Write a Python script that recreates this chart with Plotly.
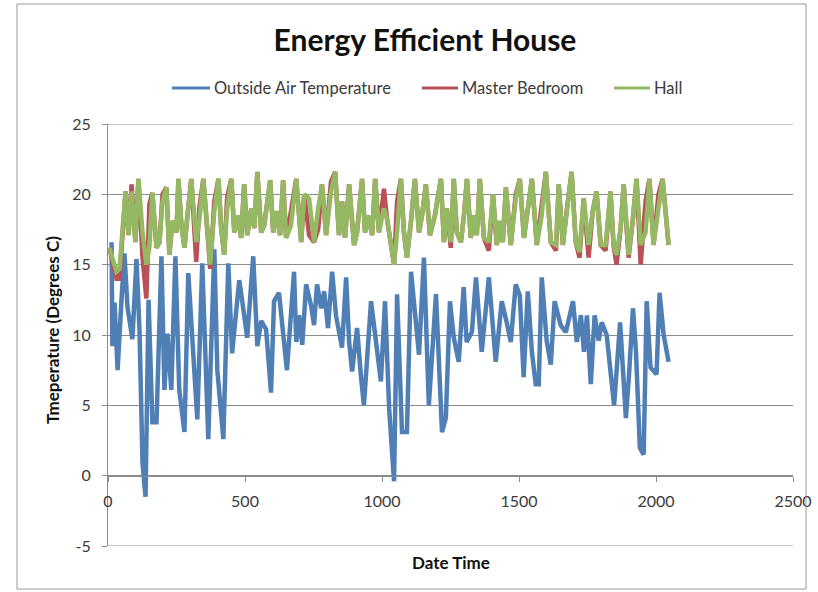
import plotly.graph_objects as go

# ---------------- data ----------------
outside_x = [13, 16, 24, 35, 49, 60, 71, 89, 104, 115, 126, 137, 148, 162, 177, 195, 206, 217, 231, 246,
             260, 279, 293, 315, 326, 344, 359, 366, 388, 399, 421, 439, 453, 479, 490, 508, 530, 545, 559, 577,
             595, 606, 624, 643, 653, 679, 687, 697, 709, 723, 741, 752, 763, 778, 789, 803, 818, 832, 854, 869,
             880, 891, 909, 923, 934, 960, 978, 996, 1011, 1026, 1044, 1055, 1073, 1091, 1106, 1117, 1135, 1153, 1171, 1197,
             1219, 1233, 1248, 1262, 1280, 1298, 1309, 1328, 1343, 1364, 1390, 1415, 1437, 1455, 1470, 1488, 1503, 1517, 1532, 1547,
             1561, 1572, 1583, 1601, 1616, 1630, 1652, 1671, 1697, 1711, 1726, 1737, 1748, 1762, 1776, 1791, 1802, 1820, 1834, 1847,
             1869, 1880, 1890, 1901, 1916, 1927, 1941, 1955, 1966, 1980, 2002, 2013, 2028, 2046]
outside_y = [16.6, 9.2, 12.3, 7.5, 12.4, 15.8, 12.0, 9.7, 15.4, 10.3, 0.9, -1.5, 12.5, 3.8, 3.8, 15.6, 6.1, 10.1, 6.1, 15.6,
             6.1, 3.1, 14.4, 7.0, 4.0, 15.1, 5.6, 2.6, 16.1, 7.5, 2.6, 15.1, 8.7, 13.9, 12.4, 9.8, 15.6, 9.2, 11.0, 10.4,
             5.9, 12.4, 13.0, 9.6, 7.5, 14.5, 9.5, 11.4, 9.3, 13.6, 12.1, 10.7, 13.6, 11.9, 13.1, 10.5, 14.5, 11.4, 9.1, 14.1,
             9.5, 7.4, 10.5, 7.1, 5.0, 12.4, 9.3, 6.7, 12.4, 4.8, -0.4, 12.9, 3.1, 3.1, 14.5, 12.3, 8.6, 15.5, 5.0, 12.9,
             3.1, 4.1, 12.4, 9.8, 8.1, 13.4, 9.5, 10.2, 14.1, 8.8, 14.1, 8.1, 12.4, 10.9, 9.5, 13.6, 12.8, 7.0, 13.1, 8.8,
             6.5, 6.5, 14.1, 9.6, 7.9, 12.4, 10.7, 10.2, 12.4, 9.5, 11.4, 8.8, 11.4, 6.5, 11.4, 9.6, 10.9, 10.0, 7.7, 5.0,
             10.9, 6.6, 4.1, 7.0, 11.9, 8.8, 2.0, 1.5, 12.4, 7.7, 7.2, 13.0, 10.0, 8.1]

indoor_x = [5, 31, 42, 64, 75, 86, 100, 111, 126, 140,
            151, 162, 177, 188, 199, 213, 224, 235, 250, 257,
            268, 279, 290, 304, 322, 333, 348, 362, 373, 388,
            403, 413, 424, 435, 450, 461, 472, 486, 497, 508,
            523, 534, 545, 559, 570, 592, 603, 614, 628, 639,
            650, 668, 687, 705, 716, 734, 752, 767, 781, 796,
            814, 829, 843, 854, 865, 880, 898, 909, 927, 938,
            949, 964, 975, 989, 1007, 1018, 1033, 1044, 1055, 1069,
            1080, 1091, 1106, 1120, 1135, 1146, 1160, 1175, 1193, 1215,
            1226, 1237, 1251, 1262, 1273, 1288, 1299, 1310, 1324, 1335,
            1346, 1357, 1372, 1390, 1405, 1419, 1430, 1441, 1452, 1470,
            1488, 1503, 1518, 1529, 1547, 1565, 1583, 1598, 1616, 1635,
            1645, 1660, 1675, 1692, 1707, 1721, 1736, 1754, 1769, 1783,
            1798, 1816, 1834, 1845, 1856, 1871, 1882, 1900, 1915, 1929,
            1944, 1962, 1976, 1991, 2009, 2024, 2046]

hall_y = [16.2, 14.5, 14.7, 20.2, 17.1, 20.2, 16.6, 21.1, 17.3, 15.0,
          16.2, 20.1, 16.2, 16.6, 19.5, 20.5, 15.7, 18.1, 17.3, 21.1,
          17.8, 16.2, 18.5, 21.1, 16.6, 18.1, 21.1, 17.3, 15.0, 18.8,
          21.1, 17.6, 15.7, 19.0, 21.1, 17.3, 18.5, 16.9, 20.7, 17.1,
          19.0, 17.6, 21.6, 17.3, 17.8, 21.0, 17.3, 18.8, 17.1, 21.0,
          16.9, 17.8, 21.1, 16.6, 20.0, 19.7, 16.6, 19.0, 20.7, 17.1,
          20.2, 21.6, 17.1, 19.5, 16.9, 20.7, 16.4, 17.3, 21.1, 17.3,
          18.5, 17.1, 21.1, 17.3, 19.0, 18.3, 16.6, 15.0, 17.3, 21.1,
          17.3, 15.5, 18.1, 21.1, 17.3, 18.5, 20.7, 17.1, 18.5, 21.1,
          16.6, 19.0, 16.6, 21.1, 17.3, 16.6, 18.5, 21.1, 16.9, 18.5,
          17.1, 21.1, 16.9, 16.6, 20.0, 16.4, 18.1, 16.6, 20.5, 16.4,
          19.7, 21.1, 16.9, 18.5, 21.1, 16.4, 18.5, 21.6, 16.6, 16.4,
          20.7, 16.4, 19.0, 21.6, 16.6, 15.9, 19.7, 16.4, 18.8, 20.2,
          16.4, 16.4, 20.2, 16.4, 15.7, 17.6, 20.7, 15.7, 18.1, 21.1,
          16.4, 17.3, 21.1, 16.4, 19.0, 21.1, 16.4]

bedroom_y = [16.2, 14.0, 14.0, 20.2, 17.1, 20.7, 16.6, 21.1, 15.5, 12.6,
             19.3, 20.1, 16.2, 16.6, 20.0, 20.5, 15.7, 18.1, 17.3, 21.1,
             17.8, 16.2, 18.5, 21.1, 15.2, 19.0, 21.1, 17.3, 14.7, 19.5,
             21.1, 17.6, 15.7, 19.8, 21.1, 17.3, 18.5, 16.9, 20.7, 17.1,
             19.0, 17.6, 21.6, 17.3, 17.8, 21.0, 17.3, 18.8, 17.1, 21.0,
             16.9, 18.8, 21.1, 16.6, 20.0, 17.1, 16.6, 17.5, 20.7, 17.1,
             20.9, 21.6, 17.1, 19.5, 16.9, 20.7, 16.4, 17.3, 21.1, 17.3,
             18.5, 17.1, 21.1, 17.3, 20.4, 18.3, 16.6, 15.0, 19.5, 21.1,
             17.3, 15.5, 18.1, 21.1, 17.3, 18.5, 20.7, 17.1, 18.5, 21.1,
             16.6, 19.0, 16.2, 21.1, 17.3, 16.6, 18.5, 21.1, 16.9, 18.5,
             17.1, 21.1, 16.9, 16.0, 20.0, 16.4, 18.1, 16.6, 20.5, 16.4,
             20.0, 21.1, 16.9, 18.5, 21.1, 16.4, 19.3, 21.6, 16.6, 16.0,
             20.7, 16.4, 19.0, 21.6, 16.6, 15.5, 19.7, 15.5, 18.8, 20.2,
             16.4, 16.0, 20.2, 16.4, 15.0, 17.6, 20.7, 15.5, 18.1, 21.1,
             15.0, 19.5, 21.1, 16.4, 20.0, 21.1, 16.4]

series_names = ["Outside Air Temperature", "Master Bedroom", "Hall"]
series_colors = ["#4f7fb4", "#b9505a", "#95b862"]

x_ticks = [0, 500, 1000, 1500, 2000, 2500]
y_ticks = [-5, 0, 5, 10, 15, 20, 25]

# ---------------- figure ----------------
FONT = "Lato"
GRID = "#8c8c8c"
TXT = "#3a3a3a"
W, H = 818, 592
L, R, T, B = 108, 25, 124, 46
PW, PH = W - L - R, H - T - B


def px_x(p):  # pixel -> paper x
    return (p - L) / PW


def px_y(p):  # pixel -> paper y
    return (H - B - p) / PH


fig = go.Figure()
for name, xs, ys, col in [(series_names[0], outside_x, outside_y, series_colors[0]),
                          (series_names[1], indoor_x, bedroom_y, series_colors[1]),
                          (series_names[2], indoor_x, hall_y, series_colors[2])]:
    fig.add_trace(go.Scatter(x=xs, y=ys, mode="lines", name=name, showlegend=False,
                             line=dict(color=col, width=4.5)))

fig.update_layout(
    width=W, height=H,
    margin=dict(l=L, r=R, t=T, b=B),
    paper_bgcolor="white", plot_bgcolor="white",
    font=dict(family=FONT, color=TXT, size=15),
    title=dict(text="<b>Energy Efficient House</b>", x=425 / W, xanchor="center",
               y=1 - 40 / H, yanchor="middle",
               font=dict(family=FONT, size=30, color="#111111")),
    showlegend=False,
)

fig.update_xaxes(range=[0, 2500], tickvals=x_ticks, ticktext=[str(v) for v in x_ticks],
                 anchor="free", position=5 / 30, showgrid=False, zeroline=False,
                 showline=True, linecolor=GRID, linewidth=1, automargin=False,
                 ticks="outside", ticklen=5, tickcolor=GRID,
                 tickfont=dict(family=FONT, size=16, color=TXT), ticklabelstandoff=6)
fig.update_yaxes(range=[-5, 25], tickvals=y_ticks, ticktext=[str(v) for v in y_ticks],
                 showgrid=True, gridcolor=GRID, gridwidth=1, zeroline=False,
                 showline=True, linecolor=GRID, linewidth=1, automargin=False,
                 ticks="outside", ticklen=5, tickcolor=GRID,
                 tickfont=dict(family=FONT, size=16, color=TXT), ticklabelstandoff=8)

# gridlines at the range edges (plotly omits them)
for yv in (y_ticks[0], y_ticks[-1]):
    fig.add_shape(type="line", xref="paper", yref="y", x0=0, x1=1, y0=yv, y1=yv,
                  line=dict(color=GRID, width=1), layer="below")

# legend drawn manually (line sample + label) to match the Excel layout
legend_items = [(172, 210, 212), (422, 458, 460), (614, 650, 652)]
ly = px_y(88)
for (x0, x1, xt), name, col in zip(legend_items, series_names, series_colors):
    fig.add_shape(type="line", xref="paper", yref="paper", x0=px_x(x0), x1=px_x(x1),
                  y0=ly, y1=ly, line=dict(color=col, width=3))
    fig.add_annotation(text=name, xref="paper", yref="paper", x=px_x(xt), y=ly,
                       xanchor="left", yanchor="middle", showarrow=False,
                       font=dict(family=FONT, size=16.5, color=TXT))

fig.add_annotation(text="<b>Tmeperature (Degrees C)</b>", xref="paper", yref="paper",
                   x=px_x(52), y=px_y(330), xanchor="center", yanchor="middle",
                   textangle=-90, showarrow=False,
                   font=dict(family=FONT, size=17, color="#111111"))
fig.add_annotation(text="<b>Date Time</b>", xref="paper", yref="paper",
                   x=px_x(451), y=px_y(562), xanchor="center", yanchor="middle",
                   showarrow=False,
                   font=dict(family=FONT, size=17, color="#111111"))

# chart outer border
fig.add_shape(type="rect", xref="paper", yref="paper",
              x0=px_x(17), x1=px_x(806), y0=px_y(589), y1=px_y(4),
              line=dict(color="#9a9a9a", width=1), fillcolor="rgba(0,0,0,0)")

# remove the default 8px page margin so the figure sits at the window origin
fig.write_html("out.html", config={"displayModeBar": False},
               post_script="document.body.style.margin='0';document.body.style.padding='0';")
